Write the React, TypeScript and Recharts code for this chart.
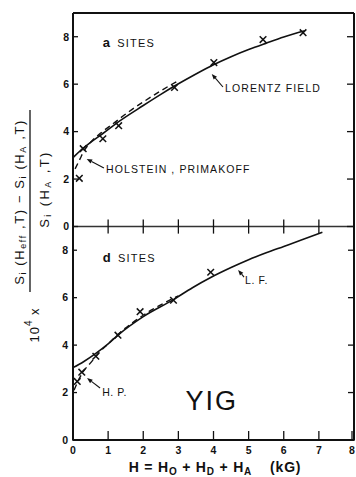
import React from 'react';
import {
  ComposedChart,
  Line,
  Scatter,
  XAxis,
  YAxis,
  ReferenceLine,
  ReferenceDot,
} from 'recharts';

const WIDTH = 356;
const HEIGHT = 477;
const FONT = '"Liberation Sans", Arial, sans-serif';
const INK = '#111';

// Axis ticks
const fieldTicks = [0, 1, 2, 3, 4, 5, 6, 7, 8];
const valueTicks = [0, 2, 4, 6, 8];
const midTicks = [1, 2, 3, 4, 5, 6, 7];

// a sites: measured points (kG, 10^4 x relative change)
const aMeasuredH = [0.18, 0.29, 0.85, 1.3, 2.89, 4.01, 5.41, 6.55];
const aMeasuredV = [2.03, 3.28, 3.7, 4.25, 5.86, 6.91, 7.88, 8.17];
// a sites: Lorentz field curve
const aLorentzH = [0, 0.25, 0.5, 0.85, 1.3, 2.0, 2.5, 2.89, 3.5, 4.0, 4.5, 5.0, 5.5, 6.0, 6.6];
const aLorentzV = [2.9, 3.25, 3.55, 3.92, 4.42, 5.1, 5.57, 5.92, 6.43, 6.82, 7.16, 7.46, 7.73, 7.99, 8.25];
// a sites: Holstein-Primakoff curve
const aHolsteinH = [0.06, 0.2, 0.3, 0.5, 0.8, 1.2, 1.6, 2.0, 2.5, 3.0];
const aHolsteinV = [2.43, 2.85, 3.15, 3.55, 3.95, 4.4, 4.85, 5.25, 5.72, 6.15];

// d sites: measured points
const dMeasuredH = [0.12, 0.25, 0.65, 1.28, 1.91, 2.86, 3.92];
const dMeasuredV = [2.47, 2.86, 3.53, 4.42, 5.41, 5.89, 7.07];
// d sites: Lorentz field curve
const dLorentzH = [0, 0.3, 0.65, 1.0, 1.28, 2.0, 2.86, 3.4, 3.92, 4.5, 5.0, 5.5, 6.0, 6.5, 7.1];
const dLorentzV = [3.05, 3.3, 3.65, 4.05, 4.42, 5.2, 5.92, 6.42, 6.85, 7.27, 7.6, 7.89, 8.16, 8.43, 8.76];
// d sites: Holstein-Primakoff curve
const dHolsteinH = [0.03, 0.15, 0.3, 0.5, 0.75, 1.0, 1.3, 1.7, 2.2, 2.6, 3.0];
const dHolsteinV = [2.1, 2.5, 2.9, 3.25, 3.7, 4.05, 4.48, 4.95, 5.45, 5.78, 6.08];

const toPoints = (hs: number[], vs: number[]) => hs.map((h, i) => ({ h, v: vs[i] }));

const aMeasured = toPoints(aMeasuredH, aMeasuredV);
const aLorentz = toPoints(aLorentzH, aLorentzV);
const aHolstein = toPoints(aHolsteinH, aHolsteinV);
const dMeasured = toPoints(dMeasuredH, dMeasuredV);
const dLorentz = toPoints(dLorentzH, dLorentzV);
const dHolstein = toPoints(dHolsteinH, dHolsteinV);

const tickText = {
  fontFamily: FONT,
  fontSize: 10.5,
  fontWeight: 'bold' as const,
  fill: INK,
};

const LeftTick = (props: any) => {
  const { x, y, payload } = props;
  return (
    <g>
      <line x1={x} y1={y} x2={x + 5} y2={y} stroke={INK} strokeWidth={1.3} />
      <text x={x - 4} y={y} dy="0.36em" textAnchor="end" {...tickText}>
        {payload.value}
      </text>
    </g>
  );
};

const RightTick = (props: any) => {
  const { x, y } = props;
  return <line x1={x} y1={y} x2={x - 7} y2={y} stroke={INK} strokeWidth={1.3} />;
};

const TopTick = (props: any) => {
  const { x, y } = props;
  return <line x1={x} y1={y} x2={x} y2={y + 7} stroke={INK} strokeWidth={1.3} />;
};

const BottomTick = (props: any) => {
  const { x, y, payload } = props;
  return (
    <g>
      <line x1={x} y1={y} x2={x} y2={y - 9} stroke={INK} strokeWidth={1.3} />
      <text x={x} y={y + 13.5} textAnchor="middle" {...tickText}>
        {payload.value}
      </text>
    </g>
  );
};

const Cross = (props: any) => {
  const { cx, cy } = props;
  const s = 3.3;
  return (
    <g stroke={INK} strokeWidth={1.5}>
      <line x1={cx - s} y1={cy - s} x2={cx + s} y2={cy + s} />
      <line x1={cx - s} y1={cy + s} x2={cx + s} y2={cy - s} />
    </g>
  );
};

const Arrow = (props: any) => {
  const { x1, y1, x2, y2 } = props;
  const dx = x2 - x1;
  const dy = y2 - y1;
  const len = Math.hypot(dx, dy) || 1;
  const ux = dx / len;
  const uy = dy / len;
  const hl = 5.5;
  const hw = 2.2;
  const bx = x2 - ux * hl;
  const by = y2 - uy * hl;
  return (
    <g>
      <line x1={x1} y1={y1} x2={bx} y2={by} stroke={INK} strokeWidth={1.1} />
      <polygon
        points={`${x2},${y2} ${bx - uy * hw},${by + ux * hw} ${bx + uy * hw},${by - ux * hw}`}
        fill={INK}
      />
    </g>
  );
};

const makeLabel = (text: string, size = 10.5, anchor: 'start' | 'middle' = 'start', spacing = 1.1) =>
  (props: any) => (
    <text
      x={props.cx}
      y={props.cy}
      dy="0.36em"
      textAnchor={anchor}
      fontFamily={FONT}
      fontSize={size}
      letterSpacing={spacing}
      fill={INK}
    >
      {text}
    </text>
  );

const SitesLabel = (letter: string) => (props: any) => (
  <text x={props.cx} y={props.cy} dy="0.36em" fontFamily={FONT} fontSize={11} letterSpacing={1.2} fill={INK}>
    <tspan fontSize={13} fontWeight="bold">{letter}</tspan>
    <tspan dx={6}>SITES</tspan>
  </text>
);

const sub = { fontSize: 9 };

export default function App() {
  return (
    <div style={{ position: 'absolute', left: 0, top: 0, width: WIDTH, height: HEIGHT, background: '#fff' }}>
      <ComposedChart
        width={WIDTH}
        height={HEIGHT}
        margin={{ top: 12, right: 0, bottom: 36, left: 71 }}
      >
        <XAxis
          xAxisId="bottom"
          type="number"
          dataKey="h"
          domain={[0, 8]}
          ticks={fieldTicks}
          orientation="bottom"
          height={1}
          tickSize={0}
          tickMargin={0}
          tick={<BottomTick />}
          tickLine={false}
          axisLine={{ stroke: INK, strokeWidth: 2 }}
          allowDataOverflow
        />
        <XAxis
          xAxisId="top"
          type="number"
          domain={[0, 8]}
          ticks={fieldTicks}
          orientation="top"
          height={1}
          tickSize={0}
          tickMargin={0}
          tick={<TopTick />}
          tickLine={false}
          axisLine={{ stroke: INK, strokeWidth: 2 }}
          allowDataOverflow
        />
        {/* upper panel (a sites) occupies the top half of a symmetric domain */}
        <YAxis
          yAxisId="a"
          type="number"
          dataKey="v"
          domain={[-9, 9]}
          ticks={valueTicks}
          width={1}
          tickSize={0}
          tickMargin={0}
          tick={<LeftTick />}
          tickLine={false}
          axisLine={{ stroke: INK, strokeWidth: 2 }}
          allowDataOverflow
        />
        {/* lower panel (d sites) occupies the bottom half */}
        <YAxis
          yAxisId="d"
          type="number"
          dataKey="v"
          domain={[0, 18]}
          ticks={valueTicks}
          width={1}
          tickSize={0}
          tickMargin={0}
          tick={<LeftTick />}
          tickLine={false}
          axisLine={false}
          allowDataOverflow
        />
        <YAxis
          yAxisId="aR"
          type="number"
          orientation="right"
          domain={[-9, 9]}
          ticks={valueTicks}
          width={1}
          tickSize={0}
          tickMargin={0}
          tick={<RightTick />}
          tickLine={false}
          axisLine={{ stroke: INK, strokeWidth: 2 }}
          allowDataOverflow
        />
        <YAxis
          yAxisId="dR"
          type="number"
          orientation="right"
          domain={[0, 18]}
          ticks={valueTicks}
          width={1}
          tickSize={0}
          tickMargin={0}
          tick={<RightTick />}
          tickLine={false}
          axisLine={false}
          allowDataOverflow
        />

        {/* shared boundary between the panels */}
        <ReferenceLine xAxisId="bottom" yAxisId="a" y={0} stroke="#333" strokeWidth={1.3} />
        {midTicks.map((t) => (
          <ReferenceLine
            key={`mid-${t}`}
            xAxisId="bottom"
            yAxisId="a"
            segment={[{ x: t, y: -0.3 }, { x: t, y: 0.3 }]}
            stroke={INK}
            strokeWidth={1.3}
          />
        ))}

        {/* a sites */}
        <Line
          xAxisId="bottom"
          yAxisId="a"
          data={aLorentz}
          dataKey="v"
          type="monotone"
          stroke={INK}
          strokeWidth={1.6}
          dot={false}
          isAnimationActive={false}
        />
        <Line
          xAxisId="bottom"
          yAxisId="a"
          data={aHolstein}
          dataKey="v"
          type="monotone"
          stroke={INK}
          strokeWidth={1.4}
          strokeDasharray="6 4"
          dot={false}
          isAnimationActive={false}
        />
        <Scatter
          xAxisId="bottom"
          yAxisId="a"
          data={aMeasured}
          dataKey="v"
          shape={<Cross />}
          isAnimationActive={false}
        />

        {/* d sites */}
        <Line
          xAxisId="bottom"
          yAxisId="d"
          data={dLorentz}
          dataKey="v"
          type="monotone"
          stroke={INK}
          strokeWidth={1.6}
          dot={false}
          isAnimationActive={false}
        />
        <Line
          xAxisId="bottom"
          yAxisId="d"
          data={dHolstein}
          dataKey="v"
          type="monotone"
          stroke={INK}
          strokeWidth={1.4}
          strokeDasharray="6 4"
          dot={false}
          isAnimationActive={false}
        />
        <Scatter
          xAxisId="bottom"
          yAxisId="d"
          data={dMeasured}
          dataKey="v"
          shape={<Cross />}
          isAnimationActive={false}
        />

        {/* annotations, upper panel */}
        <ReferenceDot xAxisId="bottom" yAxisId="a" x={0.85} y={7.74} r={0} shape={SitesLabel('a')} />
        <ReferenceDot xAxisId="bottom" yAxisId="a" x={4.33} y={5.84} r={0} shape={makeLabel('LORENTZ FIELD')} />
        <ReferenceLine
          xAxisId="bottom"
          yAxisId="a"
          segment={[{ x: 4.27, y: 5.88 }, { x: 3.95, y: 6.43 }]}
          shape={<Arrow />}
        />
        <ReferenceDot xAxisId="bottom" yAxisId="a" x={0.94} y={2.42} r={0} shape={makeLabel('HOLSTEIN , PRIMAKOFF')} />
        <ReferenceLine
          xAxisId="bottom"
          yAxisId="a"
          segment={[{ x: 0.88, y: 2.47 }, { x: 0.39, y: 2.85 }]}
          shape={<Arrow />}
        />

        {/* annotations, lower panel */}
        <ReferenceDot xAxisId="bottom" yAxisId="d" x={0.85} y={7.67} r={0} shape={SitesLabel('d')} />
        <ReferenceDot xAxisId="bottom" yAxisId="d" x={4.9} y={6.75} r={0} shape={makeLabel('L. F.', 10.5, 'start', 0.6)} />
        <ReferenceLine
          xAxisId="bottom"
          yAxisId="d"
          segment={[{ x: 4.87, y: 6.87 }, { x: 4.7, y: 7.17 }]}
          shape={<Arrow />}
        />
        <ReferenceDot xAxisId="bottom" yAxisId="d" x={0.83} y={2.02} r={0} shape={makeLabel('H. P.', 10.5, 'start', 0.6)} />
        <ReferenceLine
          xAxisId="bottom"
          yAxisId="d"
          segment={[{ x: 0.77, y: 2.19 }, { x: 0.4, y: 2.61 }]}
          shape={<Arrow />}
        />
        <ReferenceDot xAxisId="bottom" yAxisId="d" x={3.95} y={1.69} r={0} shape={makeLabel('YIG', 27, 'middle', 2)} />
      </ComposedChart>

      {/* axis titles */}
      <svg
        width={WIDTH}
        height={HEIGHT}
        style={{ position: 'absolute', left: 0, top: 0, pointerEvents: 'none' }}
      >
        <g fontFamily={FONT} fill={INK}>
          <text
            transform="translate(19,202) rotate(-90)"
            textAnchor="middle"
            dominantBaseline="central"
            fontSize={13}
            letterSpacing={1.6}
          >
            S<tspan dy={4} {...sub}>i</tspan>
            <tspan dy={-4}> (H</tspan>
            <tspan dy={4} {...sub}>eff</tspan>
            <tspan dy={-4}> ,T) − S</tspan>
            <tspan dy={4} {...sub}>i</tspan>
            <tspan dy={-4}> (H</tspan>
            <tspan dy={4} {...sub}>A</tspan>
            <tspan dy={-4}> ,T)</tspan>
          </text>
          <line x1={30} y1={110} x2={30} y2={292} stroke={INK} strokeWidth={1.3} />
          <text
            transform="translate(44,189) rotate(-90)"
            textAnchor="middle"
            dominantBaseline="central"
            fontSize={13}
            letterSpacing={2.4}
          >
            S<tspan dy={4} {...sub}>i</tspan>
            <tspan dy={-4}> (H</tspan>
            <tspan dy={4} {...sub}>A</tspan>
            <tspan dy={-4}> ,T)</tspan>
          </text>
          <text
            transform="translate(34,325) rotate(-90)"
            textAnchor="middle"
            dominantBaseline="central"
            fontSize={13}
            letterSpacing={1}
          >
            10<tspan dy={-6} fontSize={10}>4</tspan>
            <tspan dy={6}> x</tspan>
          </text>
          <text x={215} y={472} textAnchor="middle" fontSize={14} fontWeight="bold" letterSpacing={0.8}>
            H = H<tspan dy={3} fontSize={10}>O</tspan>
            <tspan dy={-3}> + H</tspan>
            <tspan dy={3} fontSize={10}>D</tspan>
            <tspan dy={-3}> + H</tspan>
            <tspan dy={3} fontSize={10}>A</tspan>
            <tspan dy={-3} dx={18}>(kG)</tspan>
          </text>
        </g>
      </svg>
    </div>
  );
}
